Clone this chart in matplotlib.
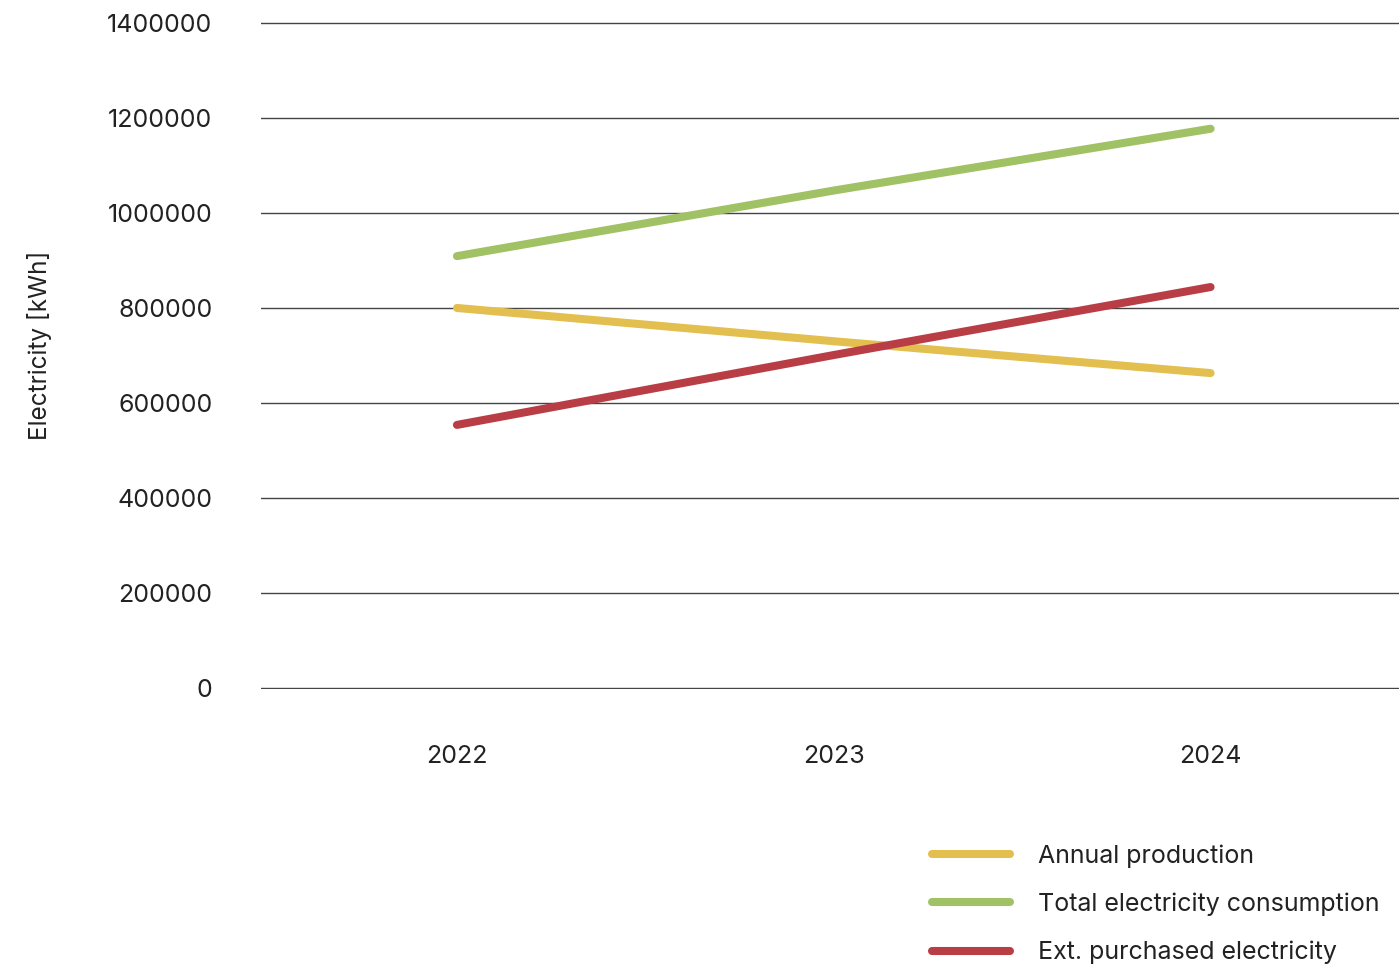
import matplotlib.pyplot as plt
import matplotlib.ticker as mticker
import numpy as np

plt.rcParams['font.family'] = ['Inter', 'DejaVu Sans']

years = ['2022', '2023', '2024']
annual_production = [800000, 730000, 663000]
total_consumption = [909000, 1047000, 1177000]
ext_purchased = [554000, 701000, 844000]

series = [
    ('Annual production', annual_production, '#e3bf50'),
    ('Total electricity consumption', total_consumption, '#a0c264'),
    ('Ext. purchased electricity', ext_purchased, '#b83d44'),
]

fig = plt.figure(figsize=(13.99, 9.65), dpi=100)
ax = fig.add_axes([261 / 1399, 1 - 689 / 965, 1 - 261 / 1399, (689 - 22) / 965])

x = np.arange(len(years))
for label, vals, color in series:
    ax.plot(x, vals, color=color, lw=5.8, solid_capstyle='round', label=label, zorder=3)

ax.set_xlim(-0.52, 2.5)
ax.set_ylim(-1500, 1401500)
ax.set_yticks(np.arange(0, 1400001, 200000))
ax.yaxis.set_major_formatter(mticker.FuncFormatter(lambda v, p: f'{int(round(v))}'))
ax.set_xticks(x)
ax.set_xticklabels(years)
ax.yaxis.grid(True, color='#444444', lw=1.0)
ax.set_axisbelow(True)
for s in ax.spines.values():
    s.set_visible(False)
ax.tick_params(axis='both', length=0, labelsize=18, colors='#222222')
ax.tick_params(axis='y', pad=35)
ax.tick_params(axis='x', pad=40)
ax.set_ylabel('Electricity [kWh]', fontsize=17.5, color='#222222')
ax.yaxis.set_label_coords(-(261 - 52) / 1138, 1 - (345 - 22) / 667)

fig.legend(loc='upper left', bbox_to_anchor=(932 / 1399, 1 - 844 / 965), frameon=False,
           fontsize=18, handlelength=3.1, handletextpad=1.15, labelspacing=1.0,
           borderpad=0, borderaxespad=0, labelcolor='#222222')

fig.savefig('out.png', dpi=100)
